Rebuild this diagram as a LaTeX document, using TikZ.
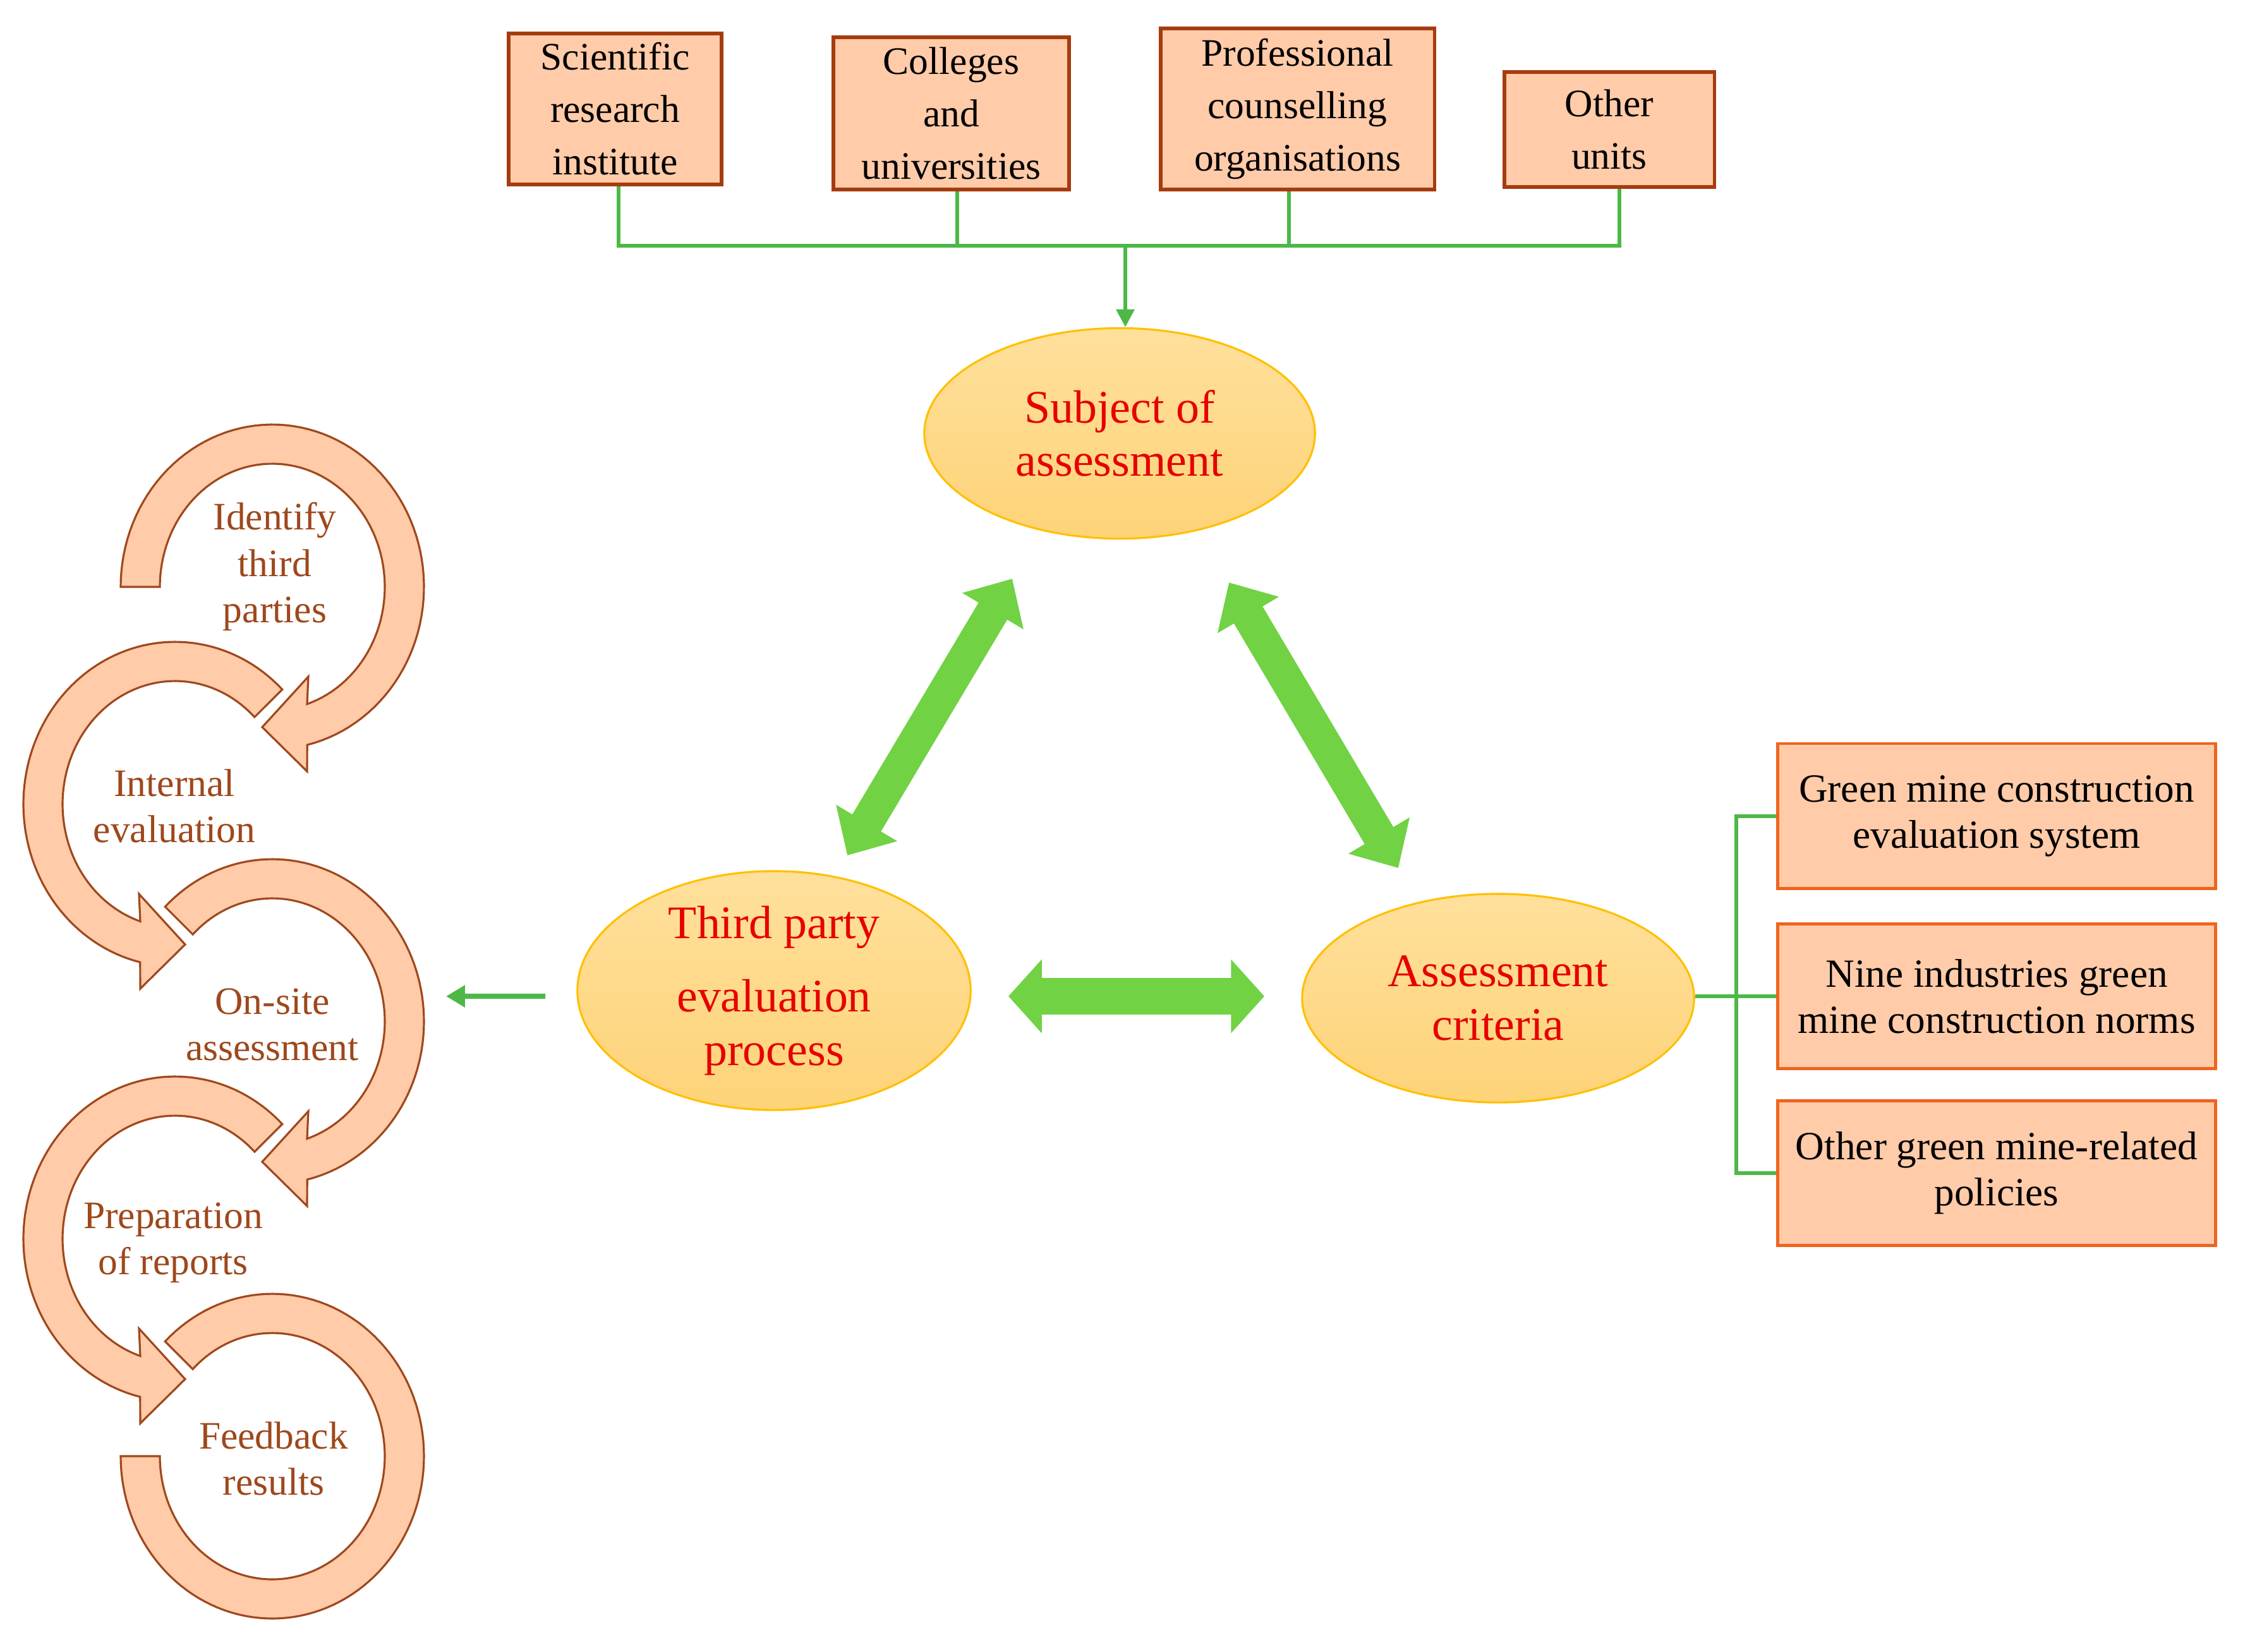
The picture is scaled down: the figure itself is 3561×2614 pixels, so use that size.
\documentclass[tikz,border=0pt]{standalone}
\usepackage{fontspec}
\setmainfont{Liberation Serif}
\usetikzlibrary{shapes.geometric,arrows.meta}
\definecolor{peach}{RGB}{255,203,169}
\definecolor{boxdark}{RGB}{165,60,15}
\definecolor{boxorange}{RGB}{240,100,30}
\definecolor{ringbrown}{RGB}{160,72,28}
\definecolor{txtbrown}{RGB}{158,72,28}
\definecolor{gold}{RGB}{255,192,0}
\definecolor{elltop}{RGB}{255,224,156}
\definecolor{ellbot}{RGB}{254,211,120}
\definecolor{biggreen}{RGB}{113,210,68}
\definecolor{linegreen}{RGB}{77,184,72}
\definecolor{redtext}{RGB}{230,0,0}
\tikzset{
  topbox/.style={draw=boxdark, line width=1.5pt, fill=peach, inner sep=0pt, align=center,
    font=\fontsize{17.5}{23.6}\selectfont},
  rightbox/.style={draw=boxorange, line width=1.4pt, fill=peach, inner sep=0pt,
    minimum width=6.92cm, minimum height=2.29cm, align=center,
    font=\fontsize{18}{20.8}\selectfont},
  ell/.style={ellipse, draw=gold, line width=0.9pt, top color=elltop, bottom color=ellbot,
    inner sep=0pt, align=center, text=redtext, font=\fontsize{21}{24}\selectfont},
  ring/.style={fill=peach, draw=ringbrown, line width=0.9pt, line join=miter},
  cyctext/.style={text=txtbrown, align=center, font=\fontsize{17.5}{20.8}\selectfont},
  glink/.style={draw=linegreen, line width=1.7pt},
  dbl/.style={draw=biggreen, line width=15pt,
    {Triangle[length=17pt,width=31pt]}-{Triangle[length=17pt,width=31pt]}},
  dblh/.style={draw=biggreen, line width=16.5pt,
    {Triangle[length=15pt,width=32.4pt]}-{Triangle[length=15pt,width=32.4pt]}}
}
\newcommand\oddring[3]{%
  \filldraw[ring] plot[domain=#3:-76.7,samples=90] ({#1+240*cos(\x)},{#2+257*sin(\x)})
    -- ({#1+55},{#2-292}) -- ({#1-16},{#2-222}) -- ({#1+57},{#2-142})
    -- plot[domain=-72:#3,samples=90] ({#1+178*cos(\x)},{#2+195*sin(\x)}) -- cycle;}
\newcommand\evenring[2]{%
  \filldraw[ring] plot[domain=45:256.7,samples=90] ({#1+240*cos(\x)},{#2+257*sin(\x)})
    -- ({#1-55},{#2-292}) -- ({#1+16},{#2-222}) -- ({#1-57},{#2-142})
    -- plot[domain=252:45,samples=90] ({#1+178*cos(\x)},{#2+195*sin(\x)}) -- cycle;}
\begin{document}
\begin{tikzpicture}[x=0.01cm,y=0.01cm]
\fill[white] (0,0) rectangle (3561,-2614);
\useasboundingbox (0,0) rectangle (3561,-2614);

% top boxes
\node[topbox, minimum width=3.37cm, minimum height=2.39cm] (b1) at (973.5,-172.5) {Scientific\\research\\institute};
\node[topbox, minimum width=3.73cm, minimum height=2.41cm] (b2) at (1505.5,-179.5) {Colleges\\and\\universities};
\node[topbox, minimum width=4.33cm, minimum height=2.55cm] (b3) at (2053.5,-172.5) {Professional\\counselling\\organisations};
\node[topbox, minimum width=3.32cm, minimum height=1.82cm] (b4) at (2547,-205) {Other\\units};

% ellipses
\node[ell, minimum width=6.18cm, minimum height=3.33cm] (sa) at (1772,-686) {Subject of\\assessment};
\node[ell, minimum width=6.22cm, minimum height=3.56cm] (tp) at (1225,-1568) {Third party\\[9pt]evaluation\\process};
\node[ell, minimum width=6.2cm, minimum height=3.3cm] (ac) at (2371,-1580) {Assessment\\criteria};

% right boxes
\node[rightbox] (r1) at (3160,-1291.5) {Green mine construction\\evaluation system};
\node[rightbox] (r2) at (3160,-1577) {Nine industries green\\mine construction norms};
\node[rightbox] (r3) at (3160,-1857) {Other green mine-related\\policies};

% top connectors
\coordinate (bus) at (1781,-389);
\draw[glink] ([xshift=0.055cm]b1.south) |- (bus);
\draw[glink] ([xshift=0.16cm]b4.south) |- (bus);
\draw[glink] ([xshift=0.095cm]b2.south) -- ([xshift=0.095cm]b2.south |- bus);
\draw[glink] ([xshift=-0.135cm]b3.south) -- ([xshift=-0.135cm]b3.south |- bus);
\draw[glink, -{Triangle[length=8pt,width=8pt]}] (bus) -- (bus |- sa.north);

% right connectors
\coordinate (jn) at (2748,-1577);
\draw[glink] (r1.west) -| (jn) |- (r3.west);
\draw[glink] (ac.east |- r2.west) -- (r2.west);

% big double arrows
\coordinate (d1a) at (1341,-1354);
\coordinate (d1b) at (1602,-916);
\coordinate (d2a) at (1945,-922);
\coordinate (d2b) at (2213,-1374);
\coordinate (h1a) at (1596,-1577);
\coordinate (h1b) at (2001,-1577);
\draw[dbl] (d1a) -- (d1b);
\draw[dbl] (d2a) -- (d2b);
\draw[dblh] (h1a) -- (h1b);

% small arrow to the cycle
\coordinate (lto) at (706,-1577);
\draw[glink, line width=2.3pt, -{Triangle[length=8.5pt,width=9.5pt]}] ([xshift=-0.49cm,yshift=-0.09cm]tp.west) -- (lto);

% cycle of ring arrows
\oddring{431}{-929}{180}
\evenring{277}{-1273}
\oddring{431}{-1617}{135}
\evenring{277}{-1961}
\filldraw[ring] plot[domain=135:-180,samples=120] ({431+240*cos(\x)},{-2305+257*sin(\x)})
  -- plot[domain=-180:135,samples=120] ({431+178*cos(\x)},{-2305+195*sin(\x)}) -- cycle;

\node[cyctext] (t1) at (435,-897) {Identify\\third\\parties};
\node[cyctext] (t2) at (276,-1276) {Internal\\evaluation};
\node[cyctext] (t3) at (431,-1622) {On-site\\assessment};
\node[cyctext] (t4) at (274,-1967) {Preparation\\of reports};
\node[cyctext] (t5) at (433,-2309) {Feedback\\results};
\end{tikzpicture}
\end{document}
